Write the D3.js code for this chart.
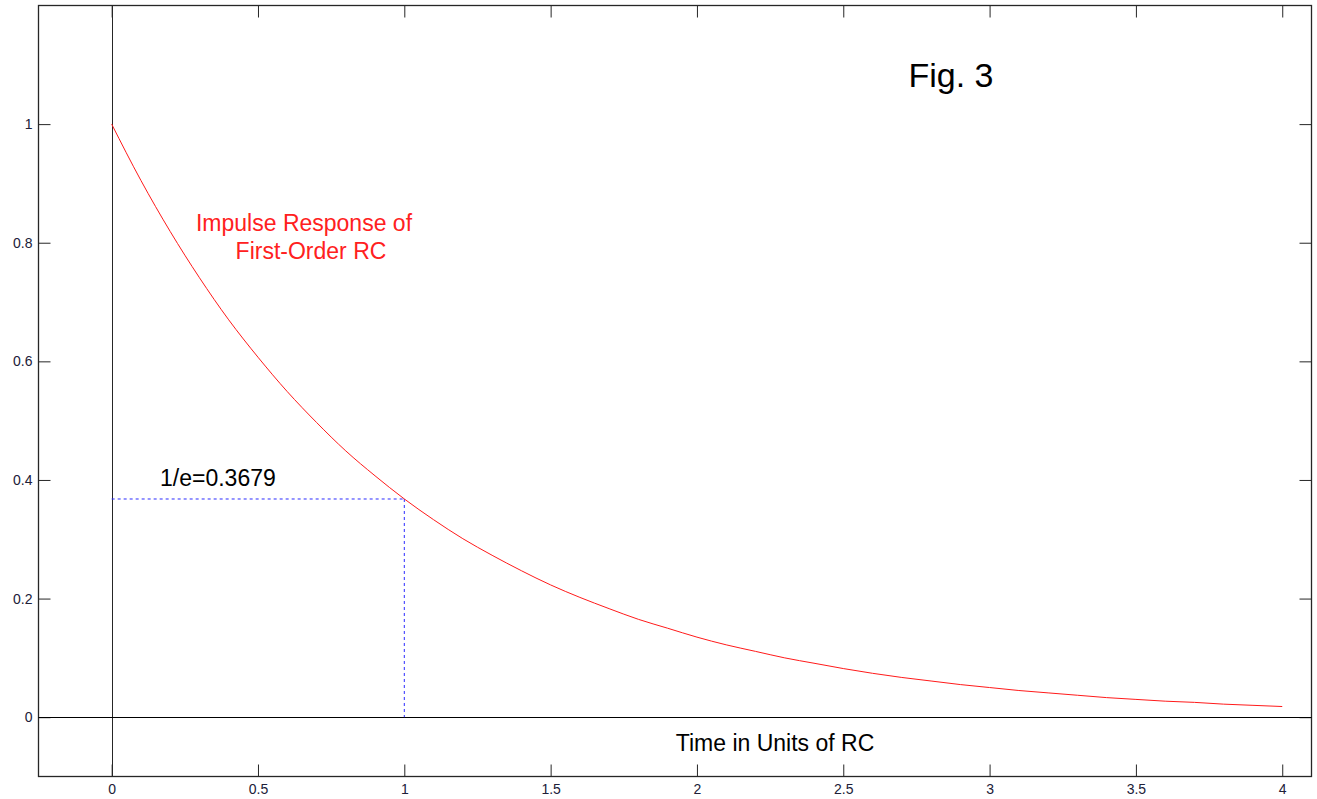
<!DOCTYPE html>
<html>
<head>
<meta charset="utf-8">
<script src="https://cdn.jsdelivr.net/npm/d3@7"></script>
<style>
  html, body { margin: 0; padding: 0; background: #fff; }
  svg { display: block; font-family: "Liberation Sans", Arial, sans-serif; }
</style>
</head>
<body>
<svg id="chart" width="1317" height="799"></svg>
<script>
// Time axis (units of RC) and sampled impulse response
const timeValues = [0, 0.1, 0.2, 0.3, 0.4, 0.5, 0.6, 0.7, 0.8, 0.9, 1.0,
  1.1, 1.2, 1.3, 1.4, 1.5, 1.6, 1.7, 1.8, 1.9, 2.0,
  2.1, 2.2, 2.3, 2.4, 2.5, 2.6, 2.7, 2.8, 2.9, 3.0,
  3.1, 3.2, 3.3, 3.4, 3.5, 3.6, 3.7, 3.8, 3.9, 4.0];
const responseValues = [1.000, 0.905, 0.819, 0.741, 0.670, 0.607, 0.549, 0.497, 0.449, 0.407, 0.368,
  0.333, 0.301, 0.273, 0.247, 0.223, 0.202, 0.183, 0.165, 0.150, 0.135,
  0.122, 0.111, 0.100, 0.091, 0.082, 0.074, 0.067, 0.061, 0.055, 0.050,
  0.045, 0.041, 0.037, 0.033, 0.030, 0.027, 0.025, 0.022, 0.020, 0.018];
const xTicks = [0, 0.5, 1, 1.5, 2, 2.5, 3, 3.5, 4];
const xTickLabels = ["0", "0.5", "1", "1.5", "2", "2.5", "3", "3.5", "4"];
const yTicks = [0, 0.2, 0.4, 0.6, 0.8, 1];
const yTickLabels = ["0", "0.2", "0.4", "0.6", "0.8", "1"];
const markerTime = 1;
const markerValue = 0.3679;

const box = { left: 38.5, top: 5.5, right: 1311.5, bottom: 776.5 };
const svg = d3.select("#chart");

const x = d3.scaleLinear().domain([-0.25, 4.1]).range([box.left, box.right]);
const y = d3.scaleLinear().domain([-0.1, 1.2]).range([box.bottom, box.top]);

const tickLen = 12;
const axisColor = "#262626";
const font = "'Liberation Sans', Arial, sans-serif";

// Bottom axis with inward ticks
const gx = svg.append("g").attr("transform", `translate(0,${box.bottom})`)
  .call(d3.axisBottom(x).tickValues(xTicks).tickSizeInner(-tickLen).tickSizeOuter(0)
    .tickPadding(8).tickFormat((d, i) => xTickLabels[i]));
// Top mirror ticks
const gxt = svg.append("g").attr("transform", `translate(0,${box.top})`)
  .call(d3.axisTop(x).tickValues(xTicks).tickSizeInner(-tickLen).tickSizeOuter(0).tickFormat(""));
// Left axis with inward ticks
const gy = svg.append("g").attr("transform", `translate(${box.left},0)`)
  .call(d3.axisLeft(y).tickValues(yTicks).tickSizeInner(-tickLen).tickSizeOuter(0)
    .tickPadding(6).tickFormat((d, i) => yTickLabels[i]));
// Right mirror ticks
const gyr = svg.append("g").attr("transform", `translate(${box.right},0)`)
  .call(d3.axisRight(y).tickValues(yTicks).tickSizeInner(-tickLen).tickSizeOuter(0).tickFormat(""));

[gx, gxt, gy, gyr].forEach(g => {
  g.select(".domain").remove();
  g.selectAll(".tick line").attr("stroke", axisColor).attr("stroke-width", 1);
  g.selectAll(".tick text").attr("fill", "#202038").attr("font-size", 14)
    .attr("font-family", font);
});

// Plot frame
svg.append("rect")
  .attr("x", box.left).attr("y", box.top)
  .attr("width", box.right - box.left).attr("height", box.bottom - box.top)
  .attr("fill", "none").attr("stroke", axisColor).attr("stroke-width", 1.3);

// Zero lines
svg.append("line")
  .attr("x1", Math.round(x(0)) + 0.5).attr("x2", Math.round(x(0)) + 0.5)
  .attr("y1", box.top).attr("y2", box.bottom)
  .attr("stroke", axisColor).attr("stroke-width", 1);
svg.append("line")
  .attr("x1", box.left).attr("x2", box.right)
  .attr("y1", Math.round(y(0)) + 0.5).attr("y2", Math.round(y(0)) + 0.5)
  .attr("stroke", "#000").attr("stroke-width", 1);

// Time-constant markers
svg.append("line")
  .attr("x1", x(0)).attr("x2", x(markerTime))
  .attr("y1", y(markerValue)).attr("y2", y(markerValue))
  .attr("stroke", "#2b2bff").attr("stroke-width", 1).attr("stroke-dasharray", "3,3");
svg.append("line")
  .attr("x1", x(markerTime)).attr("x2", x(markerTime))
  .attr("y1", y(markerValue)).attr("y2", y(0))
  .attr("stroke", "#2b2bff").attr("stroke-width", 1).attr("stroke-dasharray", "3,3");

// Impulse response curve
const line = d3.line().x((d, i) => x(timeValues[i])).y(d => y(d)).curve(d3.curveMonotoneX);
svg.append("path")
  .datum(responseValues)
  .attr("d", line)
  .attr("fill", "none").attr("stroke", "#ff1a1a").attr("stroke-width", 1);

// Annotations
svg.append("text").attr("x", 951).attr("y", 87).attr("text-anchor", "middle")
  .attr("font-size", 34).attr("font-family", font).attr("fill", "#000").text("Fig. 3");
svg.append("text").attr("x", 304).attr("y", 231).attr("text-anchor", "middle")
  .attr("font-size", 23).attr("font-family", font).attr("fill", "#ff2020").text("Impulse Response of");
svg.append("text").attr("x", 311).attr("y", 259).attr("text-anchor", "middle")
  .attr("font-size", 23).attr("font-family", font).attr("fill", "#ff2020").text("First-Order RC");
svg.append("text").attr("x", 160).attr("y", 486)
  .attr("font-size", 23).attr("font-family", font).attr("fill", "#000").text("1/e=" + markerValue.toFixed(4));
svg.append("text").attr("x", 775).attr("y", 751).attr("text-anchor", "middle")
  .attr("font-size", 23).attr("font-family", font).attr("fill", "#000").text("Time in Units of RC");
</script>
</body>
</html>
